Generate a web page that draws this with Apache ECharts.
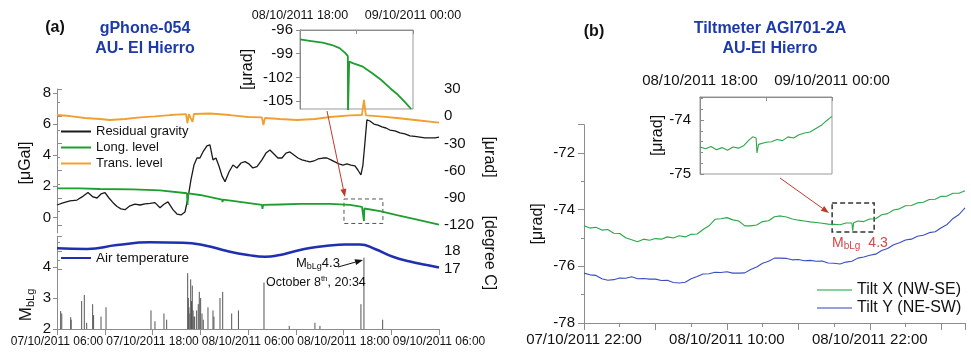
<!DOCTYPE html>
<html><head><meta charset="utf-8">
<script src="https://cdn.jsdelivr.net/npm/echarts@6/dist/echarts.min.js"></script>
<style>html,body{margin:0;padding:0;background:#fff}#c{width:971px;height:352px}</style>
</head><body><div id="c"></div>
<script>
// ---------- Panel (a): hours since 07/10/2011 06:00 ----------
const panelATickHours = [0, 12, 24, 36, 48];
const panelATimeLabels = ['07/10/2011 06:00','07/10/2011 18:00','08/10/2011 06:00','08/10/2011 18:00','09/10/2011 06:00'];
const gravityTicks = [0, 2, 4, 6, 8];
const residualGravity = [[0,0.80],[0.75,0.93],[1.63,1.06],[2.51,1.12],[3.14,1.32],[3.89,1.61],[4.52,1.32],[5.03,1.25],[5.53,1.51],[6.03,1.59],[6.53,1.25],[7.04,0.95],[7.54,0.70],[8.04,0.55],[8.54,0.50],[9.17,0.75],[9.80,0.85],[10.43,0.80],[11.06,0.87],[11.68,0.90],[12.31,0.95],[12.94,0.62],[13.44,0.85],[13.94,1.00],[14.57,0.50],[15.08,0.22],[15.58,0.16],[16.08,0.35],[16.46,1.25],[16.83,2.41],[17.21,3.37],[17.59,3.82],[17.96,3.82],[18.34,4.21],[18.84,4.60],[19.22,4.66],[19.60,3.70],[19.97,3.82],[20.35,3.31],[20.73,2.67],[21.11,2.30],[21.61,2.92],[22.11,3.37],[22.61,3.18],[23.12,3.50],[23.62,3.59],[24.12,3.44],[24.62,3.18],[25.13,3.26],[25.75,3.70],[26.26,4.14],[26.76,4.34],[27.26,4.08],[27.76,3.82],[28.27,3.82],[28.77,4.14],[29.27,4.21],[29.77,4.02],[30.28,3.82],[30.78,3.70],[31.28,3.63],[31.78,3.57],[32.29,3.63],[32.79,3.76],[33.42,3.82],[33.92,3.82],[34.42,3.70],[34.92,3.57],[35.43,3.44],[35.93,3.37],[36.43,3.44],[36.93,3.37],[37.44,3.31],[37.81,3.05],[38.19,2.73],[38.44,3.37],[38.69,4.79],[38.94,6.27],[39.32,6.20],[39.82,6.00],[40.33,5.94],[40.83,5.82],[41.33,5.75],[41.83,5.62],[42.46,5.56],[43.09,5.43],[43.72,5.37],[44.35,5.24],[44.97,5.21],[45.60,5.17],[46.23,5.11],[46.86,5.11],[47.49,5.11],[48,5.17]];
const longLevel = [[0,-79.5],[2.89,-79.7],[5.40,-80.3],[9.55,-80.6],[12.94,-81.9],[16.33,-85.0],[16.40,-97.9],[16.48,-85.2],[17.96,-86.9],[20.73,-91.9],[20.80,-94.6],[20.88,-92.1],[22.99,-94.6],[25.75,-97.9],[25.82,-102.3],[25.90,-97.9],[28.02,-97.4],[30.53,-96.8],[34.30,-96.8],[36.81,-97.9],[38.32,-100.1],[38.52,-100.6],[38.57,-115.6],[38.62,-101.8],[38.82,-102.3],[40.58,-104.6],[42.71,-109.0],[44.97,-113.4],[48,-119.5]];
const transLevel = [[0,1.3],[1.63,0.2],[3.52,-2.0],[5.40,-3.1],[6.66,-4.2],[8.54,-3.1],[10.43,-1.4],[12.31,-0.3],[14.20,1.3],[16.21,2.4],[16.39,-7.5],[16.58,2.4],[16.83,2.4],[17.02,-6.4],[17.21,2.4],[19.22,3.0],[21.73,1.3],[23.99,-0.9],[25.75,-1.4],[25.94,-9.7],[26.13,-2.0],[28.02,-3.1],[30.15,-4.2],[32.41,-3.1],[34.30,-0.9],[36.81,0.8],[38.32,1.3],[38.57,17.9],[38.82,0.8],[40.58,-0.3],[42.71,-2.0],[44.97,-4.2],[48,-7.2]];
const airTemperature = [[0,18.15],[3.77,18.11],[7.54,18.33],[11.68,18.48],[15.83,18.46],[18.59,18.31],[21.36,18.0],[23.99,17.78],[26.13,17.68],[28.02,17.78],[29.65,17.96],[31.78,18.17],[33.92,18.29],[36.18,18.36],[38.07,18.36],[39.95,18.11],[42.21,17.68],[44.35,17.42],[46.48,17.22],[48,17.08]];
const earthquakes = [[0.46,2.58],[0.6,2.5],[1.72,2.38],[1.78,2.3],[3.10,2.9],[3.43,3.1],[3.73,2.2],[4.48,2.8],[4.6,2.45],[5.53,2.4],[6.16,2.7],[11.81,2.6],[12.31,2.25],[13.44,2.5],[13.78,2.3],[16.42,3.8],[16.5,3.0],[16.58,2.7],[16.7,2.5],[16.80,3.6],[16.9,2.9],[17.00,3.4],[17.1,2.6],[17.21,2.4],[17.3,2.4],[17.55,2.6],[17.75,2.8],[17.88,3.2],[18.05,3.0],[18.22,2.5],[18.38,2.3],[18.97,2.7],[19.60,2.6],[19.72,2.4],[20.48,3.0],[20.82,3.2],[21.95,2.5],[22.80,2.6],[26.01,3.5],[29.18,2.1],[32.41,2.2],[33.04,2.1],[38.19,2.8],[38.57,4.3],[40.92,2.3]];
// inset (a): hours since 08/10/2011 18:00
const insetTimeLabels = ['08/10/2011 18:00','09/10/2011 00:00'];
const insetATicks = [-105,-102,-99,-96];
const insetLongLevel = [[0,-97.2],[0.6,-97.4],[1.2,-97.6],[1.7,-97.9],[2.1,-98.3],[2.4,-98.9],[2.54,-99.3],[2.55,-106.5],[2.6,-106.5],[2.61,-100.0],[2.8,-100.2],[3.3,-100.6],[3.8,-101.4],[4.3,-102.3],[4.8,-103.4],[5.2,-104.2],[5.6,-105.2],[5.9,-106]];
// ---------- Panel (b): hours since 07/10/2011 22:00 ----------
const panelBTickHours = [0, 12, 24];
const panelBTimeLabels = ['07/10/2011 22:00','08/10/2011 10:00','08/10/2011 22:00'];
const tiltX = [[0,-74.57],[0.5,-74.65],[1,-74.62],[1.5,-74.72],[2,-74.70],[2.5,-74.83],[3,-74.84],[3.5,-74.99],[4,-75.06],[4.5,-75.13],[5,-75.04],[5.5,-75.08],[6,-75.02],[6.5,-75.04],[7,-74.96],[7.5,-75.00],[8,-74.92],[8.5,-74.96],[9,-74.87],[9.5,-74.86],[10,-74.70],[10.5,-74.57],[11,-74.34],[11.5,-74.32],[12,-74.28],[12.5,-74.36],[13,-74.40],[13.5,-74.57],[14,-74.57],[14.5,-74.54],[15,-74.42],[15.5,-74.39],[16,-74.25],[16.5,-74.22],[17,-74.26],[17.5,-74.33],[18,-74.37],[18.5,-74.40],[19,-74.43],[19.5,-74.45],[20,-74.48],[20.5,-74.51],[21,-74.52],[21.5,-74.53],[22,-74.47],[22.5,-74.47],[22.57,-74.74],[22.65,-74.46],[23,-74.40],[23.5,-74.42],[24,-74.33],[24.5,-74.32],[25,-74.18],[25.5,-74.14],[26,-74.01],[26.5,-73.97],[27,-73.86],[27.5,-73.85],[28,-73.76],[28.5,-73.74],[29,-73.64],[29.5,-73.63],[30,-73.53],[30.5,-73.52],[31,-73.42],[31.5,-73.42],[32,-73.33]];
const tiltY = [[0,-76.24],[0.5,-76.30],[1,-76.32],[1.5,-76.44],[2,-76.49],[2.5,-76.47],[3,-76.41],[3.5,-76.42],[4,-76.37],[4.5,-76.44],[5,-76.43],[5.5,-76.45],[6,-76.45],[6.5,-76.50],[7,-76.49],[7.5,-76.57],[8,-76.59],[8.5,-76.56],[9,-76.44],[9.5,-76.36],[10,-76.27],[10.5,-76.26],[11,-76.21],[11.5,-76.22],[12,-76.19],[12.5,-76.24],[13,-76.24],[13.5,-76.23],[14,-76.11],[14.5,-76.02],[15,-75.89],[15.5,-75.82],[16,-75.71],[16.5,-75.71],[17,-75.72],[17.5,-75.77],[18,-75.76],[18.5,-75.80],[19,-75.79],[19.5,-75.82],[20,-75.81],[20.5,-75.88],[21,-75.89],[21.5,-75.92],[22,-75.85],[22.5,-75.82],[23,-75.71],[23.5,-75.67],[24,-75.61],[24.5,-75.57],[25,-75.44],[25.5,-75.37],[26,-75.24],[26.5,-75.17],[27,-75.07],[27.5,-75.04],[28,-74.94],[28.5,-74.90],[29,-74.81],[29.5,-74.78],[30,-74.64],[30.5,-74.52],[31,-74.31],[31.5,-74.17],[32,-73.94]];
const insetTiltX = [[0,-74.5],[0.25,-74.53],[0.5,-74.49],[0.75,-74.55],[1,-74.51],[1.25,-74.56],[1.5,-74.5],[1.75,-74.52],[2,-74.47],[2.2,-74.38],[2.4,-74.31],[2.55,-74.33],[2.59,-74.61],[2.66,-74.45],[2.75,-74.43],[3,-74.41],[3.25,-74.4],[3.5,-74.36],[3.75,-74.38],[4,-74.31],[4.25,-74.33],[4.5,-74.27],[4.75,-74.24],[5,-74.22],[5.25,-74.16],[5.5,-74.1],[5.75,-74.01],[6,-73.93]];

const FONT = "'Liberation Sans', Arial, sans-serif";
const AX = '#8c8c8c';
const BLUE_T = '#1c3aa9';
const chart = echarts.init(document.getElementById('c'), null, {renderer:'canvas'});

function axisBase(extra){
  return Object.assign({
    type:'value', splitLine:{show:false},
    axisLine:{show:true, lineStyle:{color:AX}},
    axisTick:{show:true, length:5, lineStyle:{color:AX}},
    axisLabel:{color:'#111', fontFamily:FONT, fontSize:15},
    nameTextStyle:{color:'#111', fontFamily:FONT, fontSize:16}
  }, extra);
}
function labelFrom(ticks, labels){ return v => { const i = ticks.indexOf(v); return i >= 0 ? labels[i] : ''; }; }
function arrow(x1,y1,x2,y2,color){
  const a=Math.atan2(y2-y1,x2-x1), L=8, W=3;
  const bx=x2-L*Math.cos(a), by=y2-L*Math.sin(a);
  const px=-Math.sin(a)*W, py=Math.cos(a)*W;
  return [{type:'line',z:100,shape:{x1,y1,x2:bx,y2:by},style:{stroke:color,lineWidth:1}},
          {type:'polygon',z:100,shape:{points:[[x2,y2],[bx+px,by+py],[bx-px,by-py]]},style:{fill:color}}];
}
const sub = {m:{fontSize:13,lineHeight:16,fontFamily:FONT}, s:{fontSize:9,lineHeight:9,verticalAlign:'bottom',fontFamily:FONT}};

const option = {
  animation:false,
  backgroundColor:'#fff',
  textStyle:{fontFamily:FONT},
  grid:[
    {left:57, top:93, width:382, height:140},      // 0 gravity
    {left:57, top:89, width:382, height:136},      // 1 tilt levels
    {left:57, top:236.6, width:382, height:32.4},  // 2 temperature
    {left:57, top:248.4, width:382, height:80.6},  // 3 earthquakes
    {left:300, top:30, width:113, height:79, show:true, borderColor:'#999', borderWidth:1, backgroundColor:'transparent'}, // 4 inset a
    {left:584, top:124.7, width:381, height:198.3},// 5 tiltmeter
    {left:700, top:97, width:132, height:77, show:true, borderColor:'#999', borderWidth:1, backgroundColor:'transparent'}  // 6 inset b
  ],
  xAxis:[
    axisBase({gridIndex:0, min:0, max:48, show:false}),
    axisBase({gridIndex:1, min:0, max:48, show:false}),
    axisBase({gridIndex:2, min:0, max:48, show:false}),
    axisBase({gridIndex:3, min:0, max:48, interval:6, axisTick:{length:6, lineStyle:{color:AX}},
      axisLabel:{color:'#111', fontFamily:FONT, fontSize:12, margin:7, showMinLabel:true, showMaxLabel:true, formatter:labelFrom(panelATickHours, panelATimeLabels)}}),
    axisBase({gridIndex:4, position:'top', min:0, max:6, interval:3, axisTick:{inside:true, length:4, lineStyle:{color:AX}},
      axisLabel:{color:'#111', fontFamily:FONT, fontSize:12.5, margin:8, formatter:labelFrom([0,6], insetTimeLabels)}}),
    axisBase({gridIndex:5, min:0, max:32, interval:6, axisTick:{length:7, lineStyle:{color:AX}},
      minorTick:{show:true, splitNumber:2, length:4, lineStyle:{color:AX}},
      axisLabel:{color:'#111', fontFamily:FONT, fontSize:15, margin:9, formatter:labelFrom(panelBTickHours, panelBTimeLabels)}}),
    axisBase({gridIndex:6, position:'top', min:0, max:6, interval:3, axisTick:{inside:true, length:4, lineStyle:{color:AX}},
      axisLabel:{color:'#111', fontFamily:FONT, fontSize:15, margin:9, formatter:labelFrom([0,6], insetTimeLabels)}})
  ],
  yAxis:[
    axisBase({gridIndex:0, min:-1, max:8, axisTick:{length:4, customValues:gravityTicks, lineStyle:{color:AX}},
      axisLabel:{color:'#111', fontFamily:FONT, fontSize:15, margin:6, customValues:gravityTicks},
      name:'[μGal]', nameLocation:'middle', nameGap:23}),
    axisBase({gridIndex:1, position:'right', min:-120, max:30, interval:30,
      minorTick:{show:true, splitNumber:2, length:3, lineStyle:{color:AX}},
      axisLabel:{color:'#111', fontFamily:FONT, fontSize:15, margin:5},
      name:'[μrad]', nameLocation:'middle', nameGap:42, nameRotate:-90}),
    axisBase({gridIndex:2, position:'right', min:17, max:18.8, interval:1,
      minorTick:{show:true, splitNumber:2, length:3, lineStyle:{color:AX}},
      axisLabel:{color:'#111', fontFamily:FONT, fontSize:15, margin:5, showMaxLabel:false},
      name:'[degree C]', nameLocation:'middle', nameGap:42, nameRotate:-90}),
    axisBase({gridIndex:3, min:2, max:4.6, interval:1, axisTick:{length:4, lineStyle:{color:AX}},
      axisLabel:{color:'#111', fontFamily:FONT, fontSize:15, margin:6, showMaxLabel:false}}),
    axisBase({gridIndex:4, min:-106, max:-96, axisTick:{length:4, customValues:insetATicks, lineStyle:{color:AX}},
      axisLabel:{color:'#111', fontFamily:FONT, fontSize:15, margin:7, customValues:insetATicks},
      name:'[μrad]', nameLocation:'middle', nameGap:44}),
    axisBase({gridIndex:5, min:-78, max:-71, interval:2, axisTick:{length:6, lineStyle:{color:AX}},
      minorTick:{show:true, splitNumber:2, length:3, lineStyle:{color:AX}},
      axisLabel:{color:'#111', fontFamily:FONT, fontSize:15, margin:9, showMaxLabel:false},
      name:'[μrad]', nameLocation:'middle', nameGap:38}),
    axisBase({gridIndex:6, min:-75, max:-73.57, interval:1, axisTick:{inside:true, length:4, lineStyle:{color:AX}},
      minorTick:{show:true, splitNumber:5, length:3, lineStyle:{color:AX}},
      axisLabel:{color:'#111', fontFamily:FONT, fontSize:15, margin:9, showMaxLabel:false},
      name:'[μrad]', nameLocation:'middle', nameGap:32})
  ],
  legend:[
    {orient:'vertical', left:61, top:125, itemWidth:30, itemHeight:2, icon:'rect', itemGap:3, padding:0,
      data:['Residual gravity','Long. level','Trans. level'], textStyle:{fontSize:13, color:'#111', fontFamily:FONT}, selectedMode:false},
    {orient:'vertical', left:61, top:251, itemWidth:30, itemHeight:2, icon:'rect', padding:0,
      data:['Air temperature'], textStyle:{fontSize:13.5, color:'#111', fontFamily:FONT}, selectedMode:false},
    {orient:'vertical', left:817, top:282, itemWidth:35, itemHeight:1.5, icon:'rect', itemGap:2, padding:0,
      data:[{name:'Tilt X (NW-SE)', itemStyle:{color:'#62c47a'}},{name:'Tilt Y (NE-SW)', itemStyle:{color:'#7480d4'}}],
      textStyle:{fontSize:16, color:'#111', fontFamily:FONT}, selectedMode:false}
  ],
  series:[
    {name:'Residual gravity', type:'line', xAxisIndex:0, yAxisIndex:0, data:residualGravity, showSymbol:false, color:'#1a1a1a', lineStyle:{width:1.3}},
    {name:'Long. level', type:'line', xAxisIndex:1, yAxisIndex:1, data:longLevel, showSymbol:false, color:'#1e9e2e', lineStyle:{width:1.8},
      markArea:{silent:true, itemStyle:{color:'rgba(0,0,0,0)', borderColor:'#555', borderWidth:1, borderType:[4,3]},
        data:[[{xAxis:36.06, yAxis:-91.3},{xAxis:40.95, yAxis:-118.3}]]}},
    {name:'Trans. level', type:'line', xAxisIndex:1, yAxisIndex:1, data:transLevel, showSymbol:false, color:'#f0a030', lineStyle:{width:1.8}},
    {name:'Air temperature', type:'line', xAxisIndex:2, yAxisIndex:2, data:airTemperature, showSymbol:false, smooth:true, color:'#1f2fb0', lineStyle:{width:2.5}},
    {name:'MbLg', type:'custom', xAxisIndex:3, yAxisIndex:3, data:earthquakes, encode:{x:0,y:1},
      renderItem:(params, api)=>{
        const p0 = api.coord([api.value(0), 2]);
        const p1 = api.coord([api.value(0), api.value(1)]);
        return {type:'line', shape:{x1:p0[0], y1:p0[1], x2:p1[0], y2:p1[1]}, style:{stroke:'#555', lineWidth:1}};
      }},
    {name:'inset long', type:'line', xAxisIndex:4, yAxisIndex:4, data:insetLongLevel, showSymbol:false, color:'#1e9e2e', lineStyle:{width:1.8}},
    {name:'Tilt X (NW-SE)', type:'line', xAxisIndex:5, yAxisIndex:5, data:tiltX, showSymbol:false, color:'#2aa84a', lineStyle:{width:1.1},
      markArea:{silent:true, itemStyle:{color:'rgba(0,0,0,0)', borderColor:'#333', borderWidth:1.5, borderType:[5,3]},
        data:[[{xAxis:20.84, yAxis:-73.76},{xAxis:24.37, yAxis:-74.79}]]}},
    {name:'Tilt Y (NE-SW)', type:'line', xAxisIndex:5, yAxisIndex:5, data:tiltY, showSymbol:false, color:'#3a4ec0', lineStyle:{width:1.1}},
    {name:'inset tilt', type:'line', xAxisIndex:6, yAxisIndex:6, data:insetTiltX, showSymbol:false, color:'#2aa84a', lineStyle:{width:1.1}}
  ],
  graphic:[
    {type:'text', z:100, x:55, y:28, style:{text:'(a)', font:"bold 16px "+FONT, fill:'#111', align:'center', verticalAlign:'middle'}},
    {type:'text', z:100, x:145, y:29, style:{text:'gPhone-054', font:"bold 16px "+FONT, fill:BLUE_T, align:'center', verticalAlign:'middle'}},
    {type:'text', z:100, x:145, y:48.5, style:{text:'AU- El Hierro', font:"bold 16px "+FONT, fill:BLUE_T, align:'center', verticalAlign:'middle'}},
    {type:'text', z:100, x:594, y:32, style:{text:'(b)', font:"bold 16px "+FONT, fill:'#111', align:'center', verticalAlign:'middle'}},
    {type:'text', z:100, x:770, y:28.5, style:{text:'Tiltmeter AGI701-2A', font:"bold 16px "+FONT, fill:BLUE_T, align:'center', verticalAlign:'middle'}},
    {type:'text', z:100, x:770, y:49, style:{text:'AU-El Hierro', font:"bold 16px "+FONT, fill:BLUE_T, align:'center', verticalAlign:'middle'}},
    {type:'text', z:100, x:26, y:305, rotation:Math.PI/2, style:{text:'{m|M}{s|bLg}', align:'center', verticalAlign:'middle', fill:'#111',
      rich:{m:{fontSize:17,lineHeight:20,fontFamily:FONT,fill:'#111'}, s:{fontSize:11,lineHeight:11,verticalAlign:'bottom',fontFamily:FONT,fill:'#111'}}}},
    {type:'text', z:100, x:296, y:263, style:{text:'{m|M}{s|bLg}{m|4.3}', align:'left', verticalAlign:'middle', fill:'#111', rich:sub}},
    {type:'text', z:100, x:266, y:283, style:{text:'{m|October 8}{t|th}{m|, 20:34}', align:'left', verticalAlign:'middle', fill:'#111',
      rich:{m:{fontSize:12.5,lineHeight:16,fontFamily:FONT}, t:{fontSize:8,lineHeight:8,verticalAlign:'top',fontFamily:FONT}}}},
    {type:'text', z:100, x:832, y:243, style:{text:'{m|M}{s|bLg}{g| }{m|4.3}', align:'left', verticalAlign:'middle', fill:'#d04848',
      rich:{m:{fontSize:14,lineHeight:16,fontFamily:FONT,fill:'#d04848'}, s:{fontSize:10,lineHeight:10,verticalAlign:'bottom',fontFamily:FONT,fill:'#d04848'}, g:{fontSize:14, width:8}}}},
    ...arrow(338,267,363,260,'#111'),
    ...arrow(327,111,345,197,'#c0392b'),
    ...arrow(780,178,829,213,'#c0392b')
  ]
};
chart.setOption(option);
</script>
</body></html>
